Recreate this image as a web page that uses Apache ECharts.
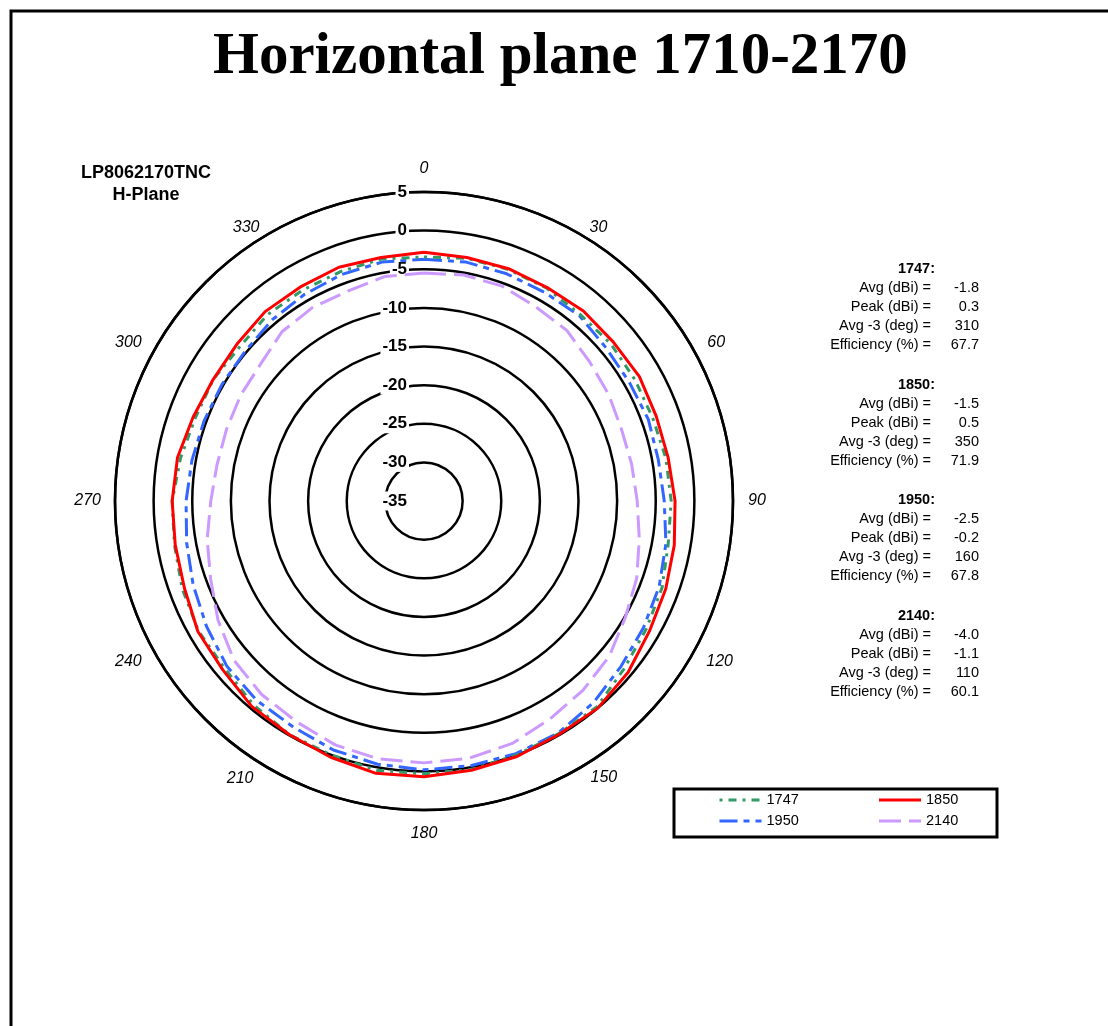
<!DOCTYPE html>
<html><head><meta charset="utf-8">
<script src="https://cdn.jsdelivr.net/npm/echarts@6/dist/echarts.min.js"></script>
<style>html,body{margin:0;padding:0;background:#fff}#c{width:1108px;height:1026px}</style>
</head><body><div id="c"></div>
<script>
// ---- data ----
const angles = [0,10,20,30,40,50,60,70,80,90,100,110,120,130,140,150,160,170,180,190,200,210,220,230,240,250,260,270,280,290,300,310,320,330,340,350];
const angleTicks = ['0','30','60','90','120','150','180','210','240','270','300','330'];
const radiusTicks = ['-35','-30','-25','-20','-15','-10','-5','0','5'];
const seriesNames = ['1747','1850','1950','2140'];
const s1747 = [-3.4,-3.1,-3.1,-3.2,-3.5,-3.4,-3.5,-3.5,-3.2,-3.0,-2.9,-2.2,-1.8,-1.2,-0.2,-0.2,0.0,0.3,0.3,0.4,0.0,-0.1,-0.6,-1.3,-1.3,-1.7,-2.2,-2.4,-3.0,-3.5,-3.5,-3.9,-3.5,-3.5,-3.4,-3.2];
const s1850 = [-2.8,-3.0,-3.0,-3.1,-2.9,-3.0,-2.8,-3.0,-2.9,-2.5,-2.1,-1.7,-1.3,-0.5,0.0,-0.1,0.2,0.4,0.7,0.8,0.3,-0.1,-0.3,-1.0,-1.2,-2.0,-2.3,-2.4,-2.6,-3.2,-3.5,-3.4,-3.0,-3.0,-2.8,-3.0];
const s1950 = [-3.7,-3.6,-3.7,-3.8,-3.7,-4.2,-4.3,-4.1,-4.2,-3.9,-3.2,-2.6,-2.2,-1.7,-0.9,-0.3,-0.2,-0.2,-0.2,-0.4,-0.7,-1.2,-1.3,-1.7,-2.5,-3.2,-3.8,-4.2,-4.5,-4.7,-4.8,-4.8,-4.4,-4.1,-3.8,-3.6];
const s2140 = [-5.5,-5.3,-5.4,-6.0,-6.2,-7.0,-7.4,-7.8,-7.7,-7.4,-6.7,-5.7,-4.9,-3.7,-3.0,-2.4,-1.6,-1.2,-1.1,-1.1,-1.4,-2.0,-2.3,-2.9,-4.2,-5.6,-6.5,-7.4,-7.8,-7.8,-7.6,-7.4,-6.4,-6.1,-6.1,-5.5];
// stats table
const statFreqs = ['1747','1850','1950','2140'];
const statLabels = ['Avg (dBi) =','Peak (dBi) =','Avg -3 (deg) =','Efficiency (%) ='];
const statAvg = ['-1.8','-1.5','-2.5','-4.0'];
const statPeak = ['0.3','0.5','-0.2','-1.1'];
const statAvg3 = ['310','350','160','110'];
const statEff = ['67.7','71.9','67.8','60.1'];
const titleText = 'Horizontal plane 1710-2170';
const subTitle = ['LP8062170TNC','H-Plane'];

// ---- chart ----
const chart = echarts.init(document.getElementById('c'));
const toPolar = arr => arr.map((v, i) => [v, angles[i]]).concat([[arr[0], 360]]);
const styles = {
  '1747': {color: '#339966', type: [3, 6, 8, 6], width: 3},
  '1850': {color: '#ff0000', type: 'solid', width: 3},
  '1950': {color: '#3366ff', type: [18, 6, 6, 6], width: 3},
  '2140': {color: '#cc99ff', type: [22, 8], width: 3}
};
const dataMap = {'1747': s1747, '1850': s1850, '1950': s1950, '2140': s2140};
const drawOrder = ['2140', '1950', '1747', '1850'];

const series = drawOrder.map(n => ({
  name: n, type: 'line', coordinateSystem: 'polar', symbol: 'none', smooth: false,
  data: toPolar(dataMap[n]),
  lineStyle: {color: styles[n].color, type: styles[n].type, width: styles[n].width},
  itemStyle: {color: styles[n].color},
  animation: false
}));

const rMin = Number(radiusTicks[0]), rMax = Number(radiusTicks[radiusTicks.length - 1]);

// per-label offsets of the angle labels (layout only)
const angleLabelPad = {
  '0': [0, 0, 35, 0], '30': [0, 0, 15, 21], '60': [0, 0, 6, 33], '90': [0, 0, 0, 35],
  '120': [8, 0, 0, 32], '150': [18, 0, 0, 22], '180': [36, 0, 0, 0], '210': [19, 26, 0, 0],
  '240': [8, 32, 0, 0], '270': [0, 34, 0, 0], '300': [0, 32, 6, 0], '330': [0, 20, 15, 0]
};
const angleRich = {};
angleTicks.forEach(t => {
  angleRich['a' + t] = {padding: angleLabelPad[t], fontStyle: 'italic', fontSize: 16, fontFamily: '"Liberation Sans", Arial', color: '#000'};
});

const graphics = [
  {type: 'rect', shape: {x: 11, y: 11, width: 1120, height: 1040}, style: {fill: 'none', stroke: '#000', lineWidth: 3}, z: 10},
  {type: 'rect', shape: {x: 674, y: 789, width: 323, height: 48}, style: {fill: 'none', stroke: '#000', lineWidth: 3}, z: 10},
  {type: 'text', x: 146, y: 173, style: {text: subTitle[0], font: 'bold 18px "Liberation Sans", Arial', fill: '#000', textAlign: 'center', textVerticalAlign: 'middle'}},
  {type: 'text', x: 146, y: 195, style: {text: subTitle[1], font: 'bold 18px "Liberation Sans", Arial', fill: '#000', textAlign: 'center', textVerticalAlign: 'middle'}}
];
const statVals = [statAvg, statPeak, statAvg3, statEff];
statFreqs.forEach((f, b) => {
  const y0 = 269 + b * 115.7;
  graphics.push({type: 'text', x: 935, y: y0, style: {text: f + ':', font: 'bold 14.5px "Liberation Sans", Arial', fill: '#000', textAlign: 'right', textVerticalAlign: 'middle'}});
  statLabels.forEach((lab, k) => {
    const y = y0 + 19 * (k + 1);
    graphics.push({type: 'text', x: 931, y: y, style: {text: lab, font: '14.5px "Liberation Sans", Arial', fill: '#000', textAlign: 'right', textVerticalAlign: 'middle'}});
    graphics.push({type: 'text', x: 979, y: y, style: {text: statVals[k][b], font: '14.5px "Liberation Sans", Arial', fill: '#000', textAlign: 'right', textVerticalAlign: 'middle'}});
  });
});

chart.setOption({
  animation: false,
  backgroundColor: '#fff',
  title: {
    text: titleText, left: 213, top: 28, padding: 0,
    textStyle: {fontFamily: '"Liberation Serif", "Times New Roman", serif', fontWeight: 'bold', fontSize: 59, color: '#000'}
  },
  legend: {
    data: seriesNames, left: 718, top: 792, width: 320, padding: 0,
    itemWidth: 42, itemHeight: 14, itemGap: 5,
    itemStyle: {opacity: 0},
    lineStyle: {width: 3},
    textStyle: {fontFamily: '"Liberation Sans", Arial', fontSize: 14.5, color: '#000', width: 106, lineHeight: 16}
  },
  polar: {center: [424, 501], radius: 309},
  angleAxis: {
    type: 'value', min: 0, max: 360, interval: 30, startAngle: 90, clockwise: true,
    axisLine: {show: true, lineStyle: {color: '#000', width: 2.5}},
    axisTick: {show: false},
    splitLine: {show: false},
    axisLabel: {
      margin: -20, color: '#000', fontStyle: 'italic', fontSize: 16, fontFamily: '"Liberation Sans", Arial',
      formatter: v => angleTicks.indexOf(String(v)) >= 0 ? '{a' + v + '|' + v + '}' : '',
      rich: angleRich
    }
  },
  radiusAxis: {
    type: 'value', min: rMin, max: rMax, interval: 5,
    axisLine: {show: false}, axisTick: {show: false},
    splitLine: {show: true, lineStyle: {color: '#000', width: 2.5}},
    axisLabel: {
      margin: 15, color: '#000', fontWeight: 'bold', fontSize: 17, fontFamily: '"Liberation Sans", Arial',
      backgroundColor: '#fff', padding: [1, 2],
      formatter: v => radiusTicks.indexOf(String(v)) >= 0 ? String(v) : ''
    }
  },
  graphic: graphics,
  series: series
});
</script></body></html>
